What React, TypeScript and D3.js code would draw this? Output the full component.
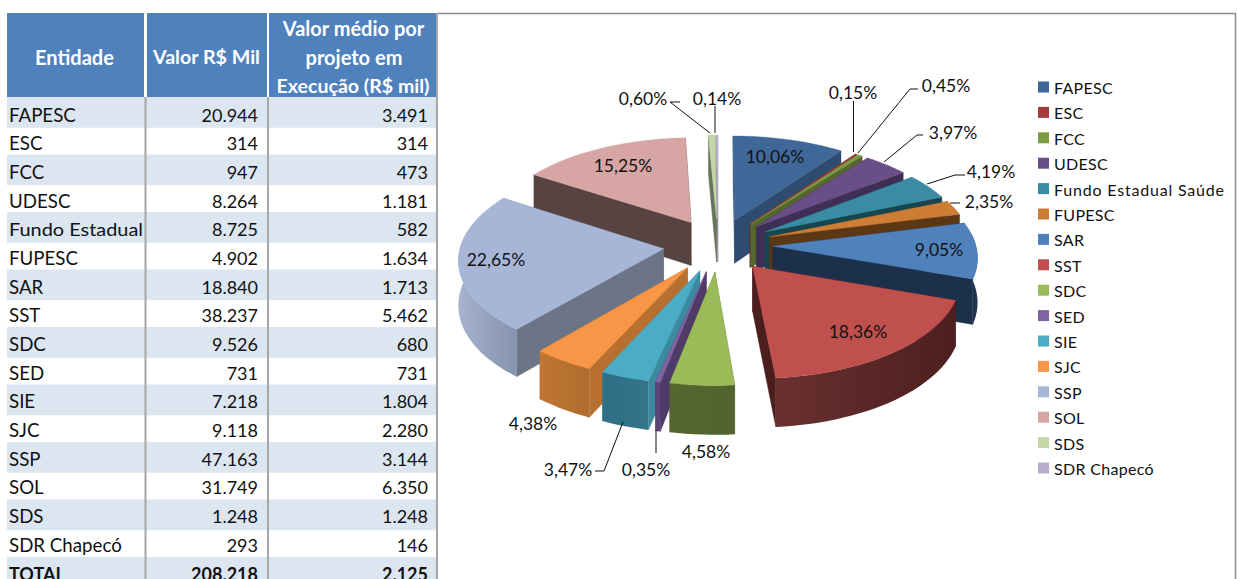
import React from "react";
import * as d3 from "d3";

const entities = ["FAPESC","ESC","FCC","UDESC","Fundo Estadual","FUPESC","SAR","SST","SDC","SED","SIE","SJC","SSP","SOL","SDS","SDR Chapecó"];
const legendNames = ["FAPESC","ESC","FCC","UDESC","Fundo Estadual Saúde","FUPESC","SAR","SST","SDC","SED","SIE","SJC","SSP","SOL","SDS","SDR Chapecó"];
const values = [20944,314,947,8264,8725,4902,18840,38237,9526.3,731,7218,9118,47163,31749,1248,293];
const averages = [3491,314,473,1181,582,1634,1713,5462,680,731,1804,2280,3144,6350,1248,146];
const totalValue = 208218;
const totalAverage = 2125;

const topColors = ["#3F6797","#A33C3A","#7E9B48","#6A4E87","#398CA3","#CE7D35","#4F81BD","#C0504D","#9BBB59","#8064A2","#4BACC6","#F79646","#A7B6D6","#D7A5A4","#C4D6A7","#B8ADCB"];
const arcLeft = ["#2E4B70","#6E2825","#55662F","#3F2F55","#235B6C","#7F4C1D","#1E3350","#6A3030","#55662F","#5A4475","#2F6F85","#BF7634","#A5B3D0","#6E5856","#7D8A66","#8A8298"];
const arcRight = ["#2E4B70","#6E2825","#55662F","#3F2F55","#235B6C","#7F4C1D","#1E3350","#4C1F1E","#53632D","#5A4475","#33748A","#B06C2E","#8593AE","#6E5856","#7D8A66","#8A8298"];
const cutColors = ["#2E4B70","#6E2825","#55662F","#3F2F55","#174550","#5C3714","#1D3049","#4C1F1E","#55662F","#4F3B68","#3A8AA0","#B87030","#6B7587","#574442","#67735A","#8A8298"];

// [x, y] anchors of the percentage labels, in entity order
const labelSpots: [number, number][] = [[775,156],[853,92],[946,85],[953,132],[991,171],[989,201],[939,249],[858,331],[706,451],[646,469],[568,469],[533,423],[496,259],[623,165],[643,98],[717,98]];
// leader polylines, separate from the data
const leaders: [number, number][][] = [
  [[853.5,101],[853.5,152]],
  [[918,89],[910,89],[858,153]],
  [[923,135],[917,135],[884,162]],
  [[965,175],[955,175],[927,184]],
  [[960,203],[950,203]],
  [[656,453],[656,430]],
  [[595,471],[604,471],[623,422]],
  [[680,102],[670,102],[710,133]],
  [[715,106],[715,133]],
];

const FONT = "Lato, Carlito, sans-serif";
const cx = 718, cy = 245, rx = 203, ry = 98.6, persp = 0.096, explode = 0.27, depth = 44;
const xScale = d3.scaleLinear().domain([0, 1]).range([cx, cx + rx]);
const yScale = d3.scaleLinear().domain([0, 1]).range([cy, cy - ry]);

function project(u: number, v: number, lift: number): [number, number] {
  const s = 1 - persp * v;
  return [xScale(u * s), yScale(v * s) + lift * s];
}

const pieGen = d3.pie<number>().sort(null).value((d) => d);
const arcs = pieGen(values);
const line = d3.line<[number, number]>();

function buildSlice(i: number) {
  const a = arcs[i];
  const mid = (a.startAngle + a.endAngle) / 2;
  const ou = explode * Math.sin(mid), ov = explode * Math.cos(mid);
  const n = Math.max(2, Math.ceil((a.endAngle - a.startAngle) / 0.04));
  const angles = d3.range(n + 1).map((k) => a.startAngle + ((a.endAngle - a.startAngle) * k) / n);
  const rimPt = (t: number) => [ou + Math.sin(t), ov + Math.cos(t)] as [number, number];
  const rim = angles.map(rimPt);
  const tip: [number, number] = [ou, ov];
  const quad = (p: [number, number], q: [number, number]) =>
    line([project(p[0], p[1], 0), project(q[0], q[1], 0), project(q[0], q[1], depth), project(p[0], p[1], depth)])! + "Z";
  const cuts = [quad(tip, rim[0]), quad(rim[n], tip)];
  const front = angles.filter((t) => Math.cos(t) < 0.15).map(rimPt);
  const arcWall = front.length > 1
    ? line([...front.map((p) => project(p[0], p[1], 0)), ...front.slice().reverse().map((p) => project(p[0], p[1], depth))])! + "Z"
    : null;
  const top = line([tip, ...rim].map((p) => project(p[0], p[1], 0)))! + "Z";
  return { i, cuts, arcWall, top, order: Math.cos(mid) };
}

const slices = d3.range(values.length).map(buildSlice).sort((a, b) => b.order - a.order);

const fmtThousands = (n: number) => d3.format(",.0f")(n).replace(/,/g, ".");
const total = d3.sum(values);
const fmtPct = (n: number) => ((n / total) * 100).toFixed(2).replace(".", ",") + "%";

const colX = [7, 147, 269];
const colW = [137, 120, 168];
const rowTop = (i: number) => 97 + Math.floor(i / 2) * 57.5 + (i % 2 ? 30.75 : 0);
const rowHeight = (i: number) => (i % 2 ? 26.75 : 30.75);
const rowText = (i: number) => 114.5 + i * 28.69;

export default function App() {
  const rows = entities.map((e, i) => ({ e, v: values[i], a: averages[i] }));
  return (
    <svg width={1237} height={579} style={{ position: "absolute", left: 0, top: 0, background: "#fff" }} fontFamily={FONT}>
      <defs>
        {values.map((_, i) => (
          <linearGradient key={i} id={`wall${i}`} x1="0" x2="1" y1="0" y2="0">
            <stop offset="0" stopColor={arcLeft[i]} />
            <stop offset="1" stopColor={arcRight[i]} />
          </linearGradient>
        ))}
      </defs>
      {/* frame */}
      <path d="M437.5 13.5H1235.5V579" fill="none" stroke="#8C8C8C" strokeWidth={1.5} />
      {/* table */}
      {colX.map((x, c) => <rect key={c} x={x} y={13} width={colW[c]} height={84} fill="#4F81BD" />)}
      {d3.range(entities.length + 1).filter((i) => i % 2 === 0).map((i) => (
        <rect key={i} x={7} y={rowTop(i)} width={430} height={rowHeight(i)} fill="#DCE6F1" />
      ))}
      {[145.5, 268].map((x) => <line key={x} x1={x} x2={x} y1={97} y2={579} stroke="#A6A6A6" strokeWidth={2} />)}
      <line x1={437} x2={437} y1={13} y2={579} stroke="#A6A6A6" strokeWidth={2} />
      <g fill="#fff" fontWeight={700} fontSize={20} textAnchor="middle" dominantBaseline="central">
        <text x={74.5} y={57}>Entidade</text>
        <text x={206.5} y={57} fontSize={18.5} textLength={107} lengthAdjust="spacingAndGlyphs">Valor R$ Mil</text>
        <text x={353.5} y={28}>Valor médio por</text>
        <text x={354} y={57}>projeto em</text>
        <text x={353} y={86} fontSize={18.5} textLength={153} lengthAdjust="spacingAndGlyphs">Execução (R$ mil)</text>
      </g>
      <g fontSize={18} fill="#111" dominantBaseline="central">
        {rows.map((r, i) => (
          <g key={r.e}>
            {r.e.length > 12
              ? <text x={9} y={rowText(i)} textLength={134} lengthAdjust="spacingAndGlyphs">{r.e}</text>
              : <text x={9} y={rowText(i)} fontSize={18.7}>{r.e}</text>}
            <text x={258} y={rowText(i)} textAnchor="end">{fmtThousands(r.v)}</text>
            <text x={428} y={rowText(i)} textAnchor="end">{fmtThousands(r.a)}</text>
          </g>
        ))}
        <g fontWeight={700}>
          <text x={9} y={rowText(16)}>TOTAL</text>
          <text x={258} y={rowText(16)} textAnchor="end">{fmtThousands(totalValue)}</text>
          <text x={428} y={rowText(16)} textAnchor="end">{fmtThousands(totalAverage)}</text>
        </g>
      </g>
      {/* pie */}
      {slices.map((s) => (
        <g key={s.i}>
          {s.cuts.map((d, k) => <path key={k} d={d} fill={cutColors[s.i]} stroke={cutColors[s.i]} strokeWidth={0.4} />)}
          {s.arcWall && <path d={s.arcWall} fill={`url(#wall${s.i})`} />}
          <path d={s.top} fill={topColors[s.i]} stroke={topColors[s.i]} strokeWidth={0.4} />
        </g>
      ))}
      {leaders.map((l, i) => <path key={i} d={line(l)!} fill="none" stroke="#111" strokeWidth={1} />)}
      <g fontSize={17.5} fill="#111" textAnchor="middle" dominantBaseline="central">
        {values.map((v, i) => <text key={i} x={labelSpots[i][0]} y={labelSpots[i][1]}>{fmtPct(v)}</text>)}
      </g>
      {/* legend */}
      {legendNames.map((n, i) => {
        const y = 87.5 + i * 25.4;
        return (
          <g key={n}>
            <rect x={1038} y={y - 6} width={11} height={11} fill={topColors[i]} />
            {n.length > 15
              ? <text x={1054} y={y} fontSize={16} fill="#111" dominantBaseline="central" textLength={170}>{n}</text>
              : <text x={1054} y={y} fontSize={16} fill="#111" dominantBaseline="central" letterSpacing={0.3}>{n}</text>}
          </g>
        );
      })}
    </svg>
  );
}
